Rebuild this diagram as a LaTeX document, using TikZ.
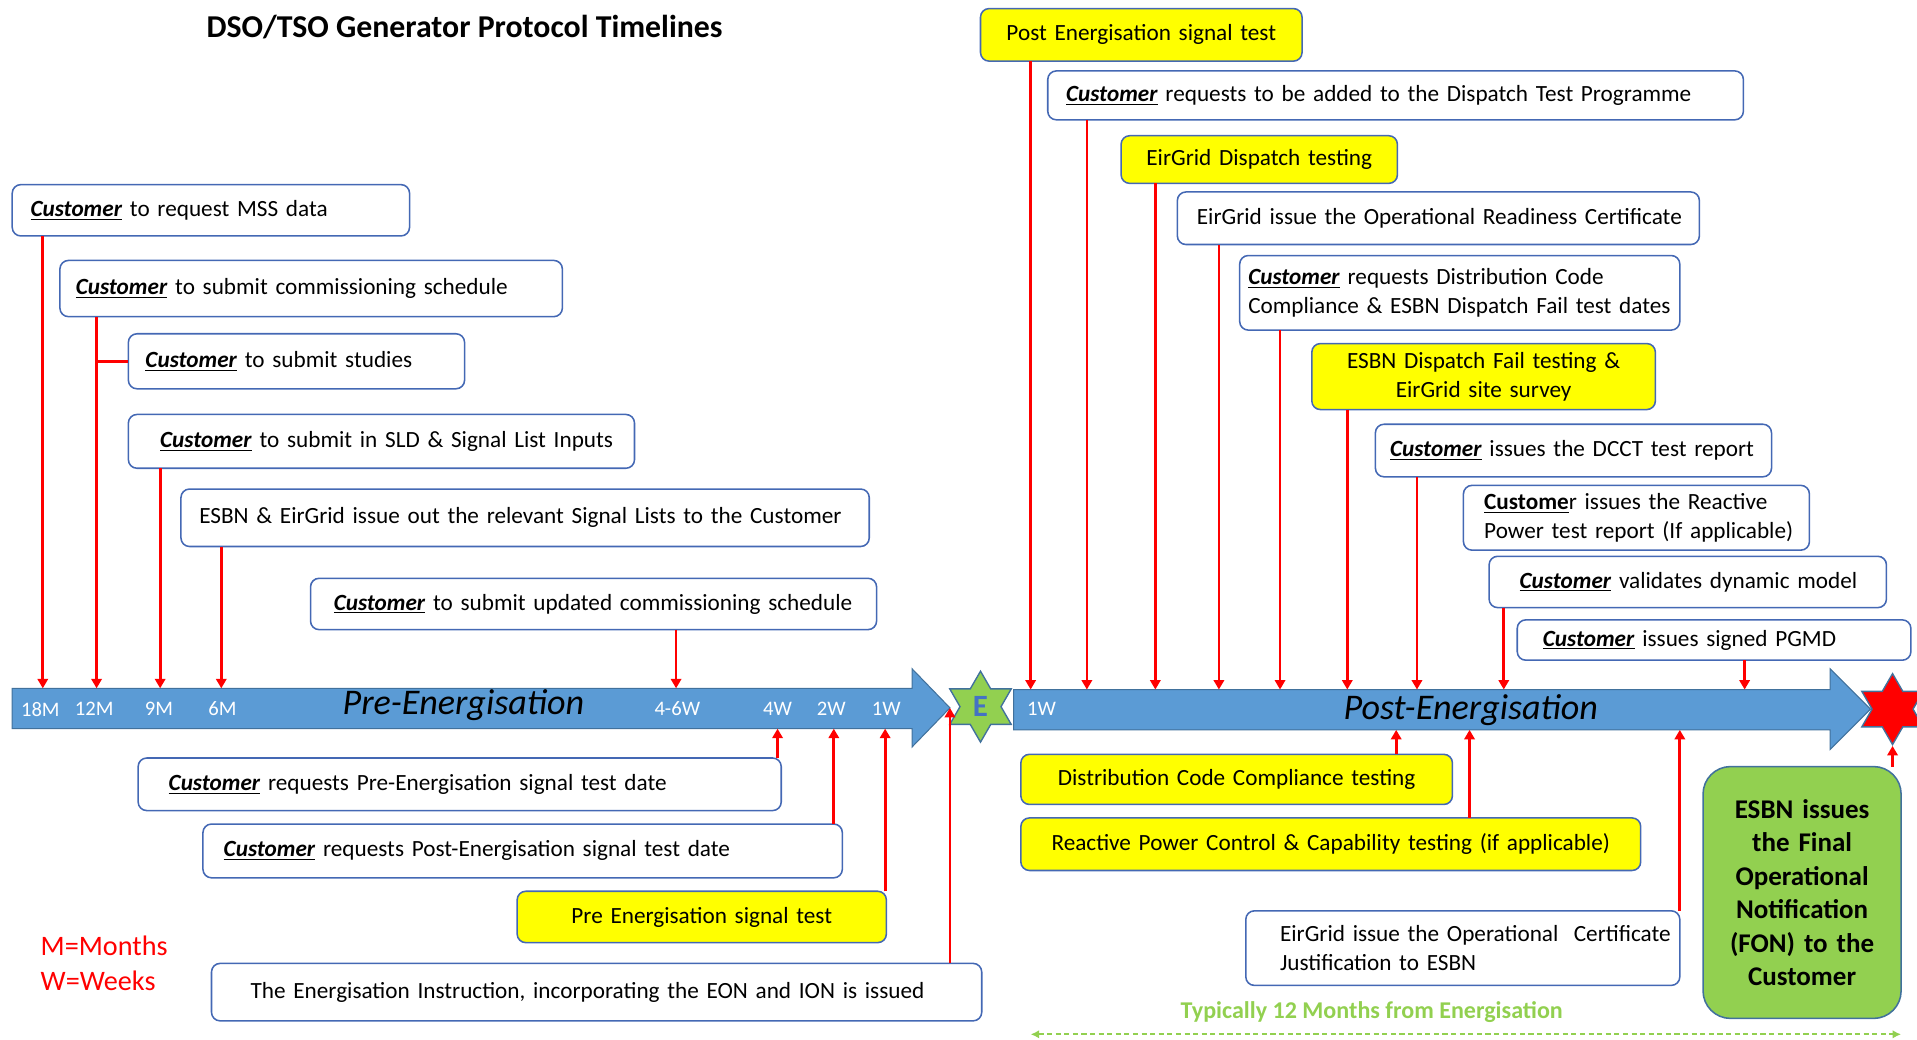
\documentclass[tikz,border=0pt]{standalone}
\usepackage{fontspec}
\setmainfont{Carlito}
\usepackage{tikz}
\usetikzlibrary{shapes.geometric, arrows.meta, positioning}
\definecolor{cBox}{RGB}{68,104,180}
\definecolor{cBar}{RGB}{91,155,213}
\definecolor{cBarEdge}{RGB}{65,113,156}
\definecolor{cYellow}{RGB}{255,255,0}
\definecolor{cGreen}{RGB}{146,208,80}
\definecolor{cRed}{RGB}{255,0,0}
\definecolor{cLetter}{RGB}{68,114,196}
\newlength{\pxu}
\setlength{\pxu}{0.025cm}
\newcommand{\cust}{\underline{\textbf{\textit{Customer}}}}
\tikzset{
	% event boxes
	evbox/.style    ={rectangle, rounded corners=5pt, draw=cBox, line width=0.9pt, fill=white, anchor=north west, inner xsep=0pt, inner ysep=0pt, outer sep=0pt, align=left, font=\fontsize{13.5}{16.8}\selectfont},
	testbox/.style  ={evbox, fill=cYellow, align=center},
	fonbox/.style   ={evbox, rounded corners=16pt, draw=cBarEdge, fill=cGreen, align=center, font=\fontsize{15.7}{19.5}\selectfont\bfseries},
	dims/.style 2 args={text width=#1\pxu, minimum height=#2\pxu},
	lpad/.style     ={execute at begin node={\leftskip=#1\pxu}},
	% time bar
	bar/.style      ={fill=cBar, draw=cBarEdge, line width=0.6pt},
	tmark/.style    ={text=white, inner sep=0pt, font=\fontsize{12}{12}\selectfont},
	phase/.style    ={inner sep=0pt, font=\fontsize{21}{21}\selectfont\itshape},
	estar/.style    ={star, star points=6, star point ratio=1.73, minimum size=58\pxu, inner sep=0pt, fill=cGreen, draw=cBarEdge, line width=0.8pt, text=cLetter, font=\fontsize{18}{18}\selectfont\bfseries},
	fstar/.style    ={estar, fill=cRed},
	% connectors
	evarr/.style    ={-{Triangle[length=5.5pt, width=6pt]}, cRed, line width=1.6pt},
	evline/.style   ={cRed, line width=1.6pt},
	spanarr/.style  ={{Latex[length=5pt, width=5pt]}-{Latex[length=5pt, width=5pt]}, cGreen, line width=1.1pt, dash pattern=on 3pt off 2pt},
	% texts
	ttl/.style      ={inner sep=0pt, font=\fontsize{18.5}{18.5}\selectfont\bfseries},
	legend/.style   ={anchor=west, inner sep=0pt, text=cRed, font=\fontsize{16.4}{20}\selectfont},
	spantxt/.style  ={inner sep=0pt, text=cGreen, font=\fontsize{14}{14}\selectfont\bfseries},
}
\begin{document}
\begin{tikzpicture}[x=0.025cm, y=-0.025cm]
	\useasboundingbox (0,0) rectangle (1568,850);
	\node[ttl] (title) at (380,22) {DSO/TSO Generator Protocol Timelines};
	% ---- time bars ----
	\draw[bar] (10,563) -- (746,563) -- (746,547) -- (777,579) -- (746,611) -- (746,596) -- (10,596) -- cycle;
	\draw[bar] (829,564) -- (1497,564) -- (1497,547) -- (1530,580) -- (1497,613) -- (1497,597) -- (829,597) -- cycle;
	\coordinate (preTip) at (777,579);
	\foreach \nm/\x/\t in {l18/33/18M, l12/77/12M, l9/130/9M, l6/182/6M, l46/554/4-6W, l4/636/4W, l2/680/2W, l1/725/1W, lp1/852/1W}
		\node[tmark] (\nm) at (\x,580) {\t};
	\node[phase] (pre) at (379,577) {Pre-Energisation};
	\node[phase] (post) at (1203,581) {Post-Energisation};
	\node[estar] (enrg) at (802,578) {E};
	\node[fstar] (fin) at (1548,580) {};
	\foreach \nm/\x in {m18/35, m12/79, m9/131, m6/181, w46/553}
		\coordinate (\nm) at (\x,563);
	\foreach \nm/\x in {w4/636, w2/682, w1/724}
		\coordinate (\nm) at (\x,596);
	\foreach \nm/\x in {p1/843, p2/889, p3/945, p4/997, p5/1047, p6/1102, p7/1159, p8/1230, p9/1427}
		\coordinate (\nm) at (\x,564);
	\foreach \nm/\x in {q1/1142, q2/1202, q3/1374}
		\coordinate (\nm) at (\x,597);
	% ---- pre-energisation ----
	\node[evbox, dims={325}{42}, lpad=15] (mss) at (10,151) {\cust{} to request MSS data};
	\node[evbox, dims={411}{46}, lpad=13] (comm) at (49,213) {\cust{} to submit commissioning schedule};
	\node[evbox, dims={275}{45}, lpad=14] (studies) at (105,273) {\cust{} to submit studies};
	\node[evbox, dims={414}{44}, lpad=26] (sld) at (105,339) {\cust{} to submit in SLD \& Signal List Inputs};
	\node[evbox, dims={563}{47}, lpad=15] (lists) at (148,400) {ESBN \& EirGrid issue out the relevant Signal Lists to the Customer};
	\node[evbox, dims={463}{42}, lpad=19] (upd) at (254,473) {\cust{} to submit updated commissioning schedule};
	\node[evbox, dims={526}{43}, lpad=25] (preReq) at (113,620) {\cust{} requests Pre-Energisation signal test date};
	\node[evbox, dims={523}{44}, lpad=17] (postReq) at (166,674) {\cust{} requests Post-Energisation signal test date};
	\node[testbox, dims={302}{42}] (preTest) at (423,729) {Pre Energisation signal test};
	\node[evbox, dims={630}{47}, lpad=32] (einst) at (173,788) {The Energisation Instruction, incorporating the EON and ION is issued};
	% ---- post-energisation ----
	\node[testbox, dims={263}{43}] (postTest) at (802,7) {Post Energisation signal test};
	\node[evbox, dims={569}{40}, lpad=15] (addDisp) at (857,58) {\cust{} requests to be added to the Dispatch Test Programme};
	\node[testbox, dims={226}{39}] (dispTest) at (917,111) {EirGrid Dispatch testing};
	\node[evbox, dims={427}{43}, lpad=16] (orc) at (963,157) {EirGrid issue the Operational Readiness Certificate};
	\node[evbox, dims={360}{61}, lpad=7] (dccReq) at (1014,209) {\cust{} requests Distribution Code\\Compliance \& ESBN Dispatch Fail test dates};
	\node[testbox, dims={281}{54}] (dfTest) at (1073,281) {ESBN Dispatch Fail testing \&\\EirGrid site survey};
	\node[evbox, dims={324}{43}, lpad=12] (dcct) at (1125,347) {\cust{} issues the DCCT test report};
	\node[evbox, dims={283}{53}, lpad=17] (rpt) at (1197,397) {\underline{\textbf{Custome}}r issues the Reactive\\Power test report (If applicable)};
	\node[evbox, dims={325}{42}, lpad=25] (dyn) at (1218,455) {\cust{} validates dynamic model};
	\node[evbox, dims={322}{33}, lpad=21] (pgmd) at (1241,507) {\cust{} issues signed PGMD};
	\node[testbox, dims={353}{41}] (dccTest) at (835,617) {Distribution Code Compliance testing};
	\node[testbox, dims={507}{43}] (rpcTest) at (835,669) {Reactive Power Control \& Capability testing (if applicable)};
	\node[evbox, dims={355}{61}, lpad=28] (ocj) at (1019,745) {EirGrid issue the Operational\ \ Certificate\\Justification to ESBN};
	\node[fonbox, dims={162}{206}] (fon) at (1393,627) {ESBN issues\\the Final\\Operational\\Notification\\(FON) to the\\Customer};
	% ---- legend and span ----
	\node[legend] (legM) at (33,774) {M=Months};
	\node[legend] (legW) at (33,802) {W=Weeks};
	\node[spantxt] (spanTxt) at (1122,828) {Typically 12 Months from Energisation};
	\coordinate (spanL) at (843,846);
	\coordinate (spanR) at (1555,846);
	\draw[spanarr] (spanL) -- (spanR);
	% ---- connectors ----
	\draw[evarr] (mss.south -| m18) -- (m18);
	\draw[evarr] (comm.south -| m12) -- (m12);
	\draw[evline] (studies.west -| m12) -- (studies.west);
	\draw[evarr] (sld.south -| m9) -- (m9);
	\draw[evarr] (lists.south -| m6) -- (m6);
	\draw[evarr] (upd.south -| w46) -- (w46);
	\draw[evarr] (preReq.north -| w4) -- (w4);
	\draw[evarr] (postReq.north -| w2) -- (w2);
	\draw[evarr] (preTest.north -| w1) -- (w1);
	\draw[evarr] (einst.north -| preTip) -- (preTip);
	\foreach \b/\c in {postTest/p1, addDisp/p2, dispTest/p3, orc/p4, dccReq/p5, dfTest/p6, dcct/p7, dyn/p8, pgmd/p9}
		\draw[evarr] (\b.south -| \c) -- (\c);
	\foreach \b/\c in {dccTest/q1, rpcTest/q2, ocj/q3}
		\draw[evarr] (\b.north -| \c) -- (\c);
	\draw[evarr] (fon.north -| fin.south) -- (fin.south);
\end{tikzpicture}
\end{document}
